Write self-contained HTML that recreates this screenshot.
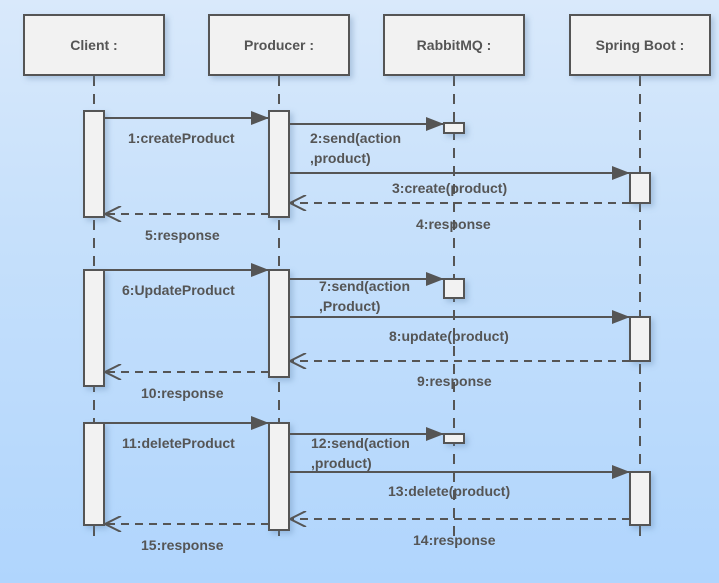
<!DOCTYPE html>
<html><head><style>
html,body{margin:0;padding:0;width:719px;height:583px;background:#b0d5fd;}
body{overflow:hidden;background:linear-gradient(#d9e9fb,#c6e0fb 40%,#b0d5fd);}
svg{display:block;}
text{font-family:"Liberation Sans",sans-serif;font-weight:bold;font-size:14px;fill:#555;}
</style></head><body>
<svg width="719" height="583" viewBox="0 0 719 583" xmlns="http://www.w3.org/2000/svg">
<defs>
<filter id="sh" x="-20%" y="-20%" width="160%" height="160%"><feDropShadow dx="3" dy="3" stdDeviation="3" flood-color="#5a7fa8" flood-opacity="0.35"/></filter>
<marker id="fa" markerWidth="18" markerHeight="14" refX="18" refY="7" orient="auto" markerUnits="userSpaceOnUse"><path d="M0,0 L18,7 L0,14 Z" fill="#555"/></marker>
<marker id="oa" markerWidth="18" markerHeight="16" refX="17" refY="8" orient="auto" markerUnits="userSpaceOnUse"><path d="M1,0 L17,8 L1,16" fill="none" stroke="#555" stroke-width="2"/></marker>
</defs>
<g stroke="#555" stroke-width="2" fill="none" stroke-dasharray="10,8">
<line x1="94" y1="76" x2="94" y2="540"/><line x1="279" y1="76" x2="279" y2="540"/>
<line x1="454" y1="76" x2="454" y2="540"/><line x1="640" y1="76" x2="640" y2="540"/>
</g>
<g fill="#f2f2f2" stroke="#555" stroke-width="2" filter="url(#sh)">
<rect x="24" y="15" width="140" height="60"/><rect x="209" y="15" width="140" height="60"/>
<rect x="384" y="15" width="140" height="60"/><rect x="570" y="15" width="140" height="60"/>
</g>
<text x="94" y="50" text-anchor="middle">Client :</text>
<text x="279" y="50" text-anchor="middle">Producer :</text>
<text x="454" y="50" text-anchor="middle">RabbitMQ :</text>
<text x="640" y="50" text-anchor="middle">Spring Boot :</text>
<g fill="#f2f2f2" stroke="#555" stroke-width="2" filter="url(#sh)">
<rect x="84" y="111" width="20" height="106"/><rect x="269" y="111" width="20" height="106"/>
<rect x="444" y="123" width="20" height="10"/><rect x="630" y="173" width="20" height="30"/>
<rect x="84" y="270" width="20" height="116"/><rect x="269" y="270" width="20" height="107"/>
<rect x="444" y="279" width="20" height="19"/><rect x="630" y="317" width="20" height="44"/>
<rect x="84" y="423" width="20" height="102"/><rect x="269" y="423" width="20" height="107"/>
<rect x="444" y="434" width="20" height="9"/><rect x="630" y="472" width="20" height="53"/>
</g>
<g stroke="#555" stroke-width="2" fill="none">
<line x1="104" y1="118" x2="269" y2="118" marker-end="url(#fa)"/>
<line x1="289" y1="124" x2="444" y2="124" marker-end="url(#fa)"/>
<line x1="289" y1="173" x2="630" y2="173" marker-end="url(#fa)"/>
<line x1="104" y1="270" x2="269" y2="270" marker-end="url(#fa)"/>
<line x1="289" y1="279" x2="444" y2="279" marker-end="url(#fa)"/>
<line x1="289" y1="317" x2="630" y2="317" marker-end="url(#fa)"/>
<line x1="104" y1="423" x2="269" y2="423" marker-end="url(#fa)"/>
<line x1="289" y1="434" x2="444" y2="434" marker-end="url(#fa)"/>
<line x1="289" y1="472" x2="630" y2="472" marker-end="url(#fa)"/>
<g stroke-dasharray="8,6">
<line x1="630" y1="203" x2="290" y2="203" marker-end="url(#oa)"/>
<line x1="269" y1="214" x2="105" y2="214" marker-end="url(#oa)"/>
<line x1="630" y1="361" x2="290" y2="361" marker-end="url(#oa)"/>
<line x1="269" y1="372" x2="105" y2="372" marker-end="url(#oa)"/>
<line x1="630" y1="519" x2="290" y2="519" marker-end="url(#oa)"/>
<line x1="269" y1="524" x2="105" y2="524" marker-end="url(#oa)"/>
</g>
</g>
<text x="128" y="143">1:createProduct</text>
<text x="310" y="143">2:send(action</text>
<text x="310" y="163">,product)</text>
<text x="392" y="193">3:create(product)</text>
<text x="416" y="229">4:response</text>
<text x="145" y="240">5:response</text>
<text x="122" y="295">6:UpdateProduct</text>
<text x="319" y="291">7:send(action</text>
<text x="319" y="311">,Product)</text>
<text x="389" y="341">8:update(product)</text>
<text x="417" y="386">9:response</text>
<text x="141" y="398">10:response</text>
<text x="122" y="448">11:deleteProduct</text>
<text x="311" y="448">12:send(action</text>
<text x="311" y="468">,product)</text>
<text x="388" y="496">13:delete(product)</text>
<text x="413" y="545">14:response</text>
<text x="141" y="550">15:response</text>
</svg>
</body></html>
